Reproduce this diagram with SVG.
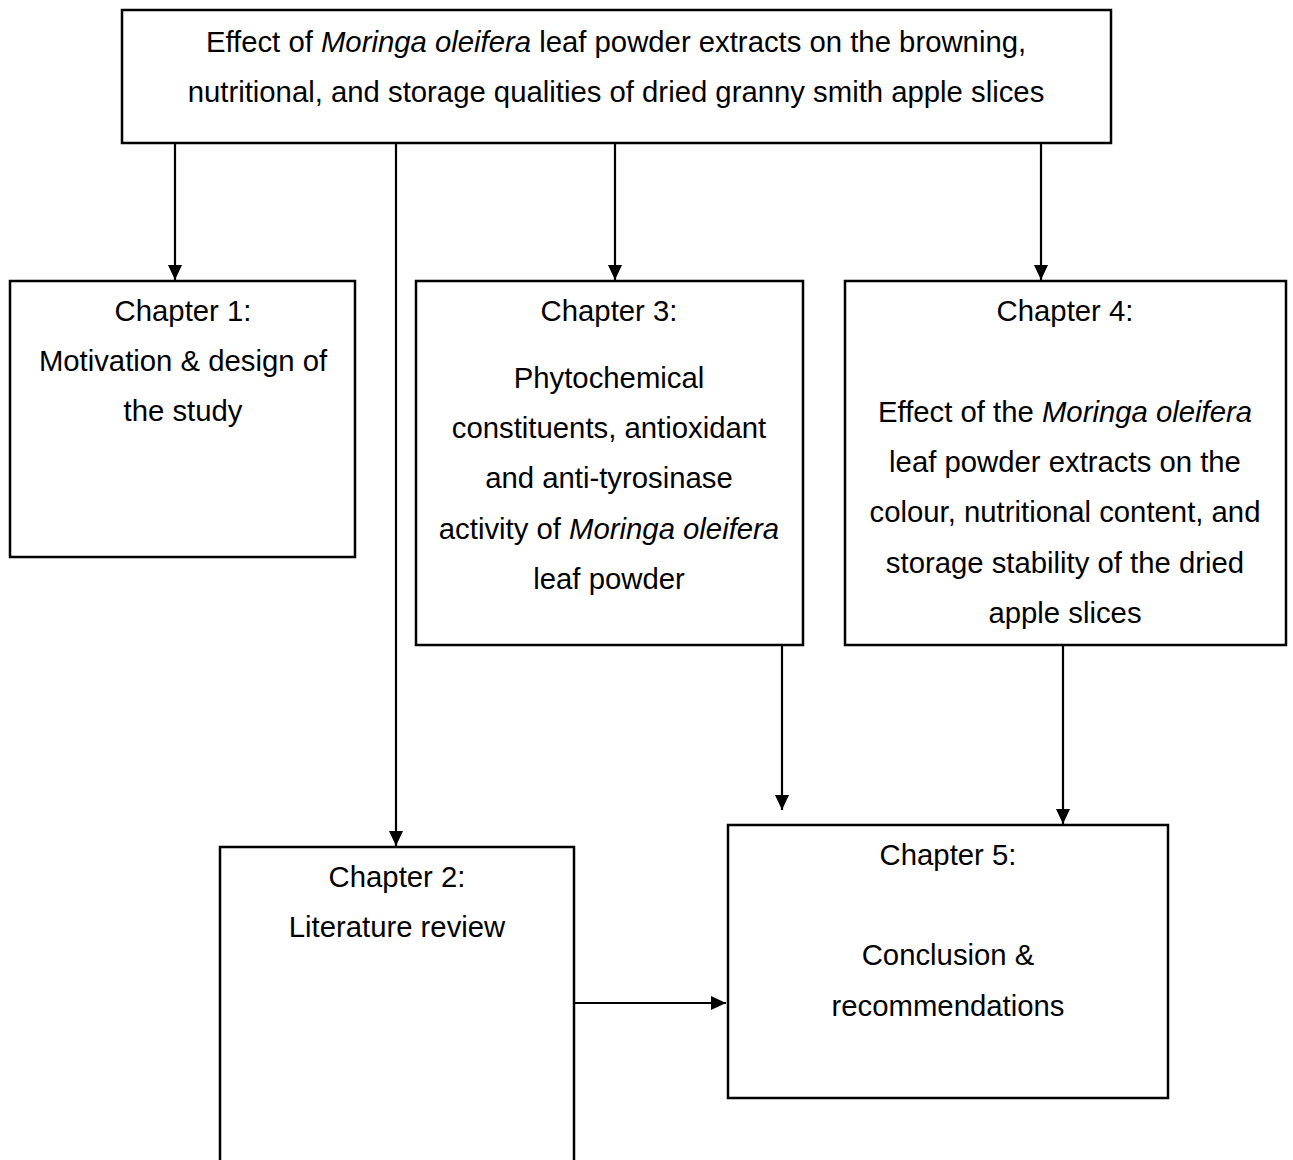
<svg xmlns="http://www.w3.org/2000/svg" width="1293" height="1160" viewBox="0 0 1293 1160">
<defs>
<style>
.box{fill:#fff;stroke:#000;stroke-width:2.5}
.t{font-family:"Liberation Sans",Arial,sans-serif;font-size:29.3px;fill:#000;text-anchor:middle}
.c{stroke:#000;stroke-width:2.2;fill:none;marker-end:url(#ah)}
</style>
<marker id="ah" markerWidth="15" markerHeight="14" refX="15" refY="7" orient="auto" markerUnits="userSpaceOnUse" viewBox="0 0 15 14">
<path d="M0,0 L15,7 L0,14 z" fill="#000"/>
</marker>
</defs>
<rect width="1293" height="1160" fill="#fff"/>
<g id="connectors">
<line class="c" x1="175" y1="143" x2="175" y2="280"/>
<line class="c" x1="396" y1="143" x2="396" y2="846"/>
<line class="c" x1="615" y1="143" x2="615" y2="280"/>
<line class="c" x1="1041" y1="143" x2="1041" y2="280"/>
<line class="c" x1="782" y1="645" x2="782" y2="810"/>
<line class="c" x1="1063" y1="645" x2="1063" y2="824"/>
<line class="c" x1="574" y1="1003" x2="726" y2="1003"/>
</g>
<g id="top">
<rect class="box" x="122" y="10" width="989" height="133"/>
<text class="t" x="616" y="52">Effect of <tspan font-style="italic">Moringa oleifera</tspan> leaf powder extracts on the browning,</text>
<text class="t" x="616" y="102">nutritional, and storage qualities of dried granny smith apple slices</text>
</g>
<g id="ch1">
<rect class="box" x="10" y="281" width="345" height="276"/>
<text class="t" x="183" y="321">Chapter 1:</text>
<text class="t" x="183" y="371">Motivation &amp; design of</text>
<text class="t" x="183" y="421">the study</text>
</g>
<g id="ch3">
<rect class="box" x="416" y="281" width="387" height="364"/>
<text class="t" x="609" y="321">Chapter 3:</text>
<text class="t" x="609" y="388">Phytochemical</text>
<text class="t" x="609" y="438">constituents, antioxidant</text>
<text class="t" x="609" y="488">and anti-tyrosinase</text>
<text class="t" x="609" y="539">activity of <tspan font-style="italic">Moringa oleifera</tspan></text>
<text class="t" x="609" y="589">leaf powder</text>
</g>
<g id="ch4">
<rect class="box" x="845" y="281" width="441" height="364"/>
<text class="t" x="1065" y="321">Chapter 4:</text>
<text class="t" x="1065" y="422">Effect of the <tspan font-style="italic">Moringa oleifera</tspan></text>
<text class="t" x="1065" y="472">leaf powder extracts on the</text>
<text class="t" x="1065" y="522">colour, nutritional content, and</text>
<text class="t" x="1065" y="573">storage stability of the dried</text>
<text class="t" x="1065" y="623">apple slices</text>
</g>
<g id="ch2">
<rect class="box" x="220" y="847" width="354" height="330"/>
<text class="t" x="397" y="887">Chapter 2:</text>
<text class="t" x="397" y="937">Literature review</text>
</g>
<g id="ch5">
<rect class="box" x="728" y="825" width="440" height="273"/>
<text class="t" x="948" y="865">Chapter 5:</text>
<text class="t" x="948" y="965">Conclusion &amp;</text>
<text class="t" x="948" y="1016">recommendations</text>
</g>
</svg>
